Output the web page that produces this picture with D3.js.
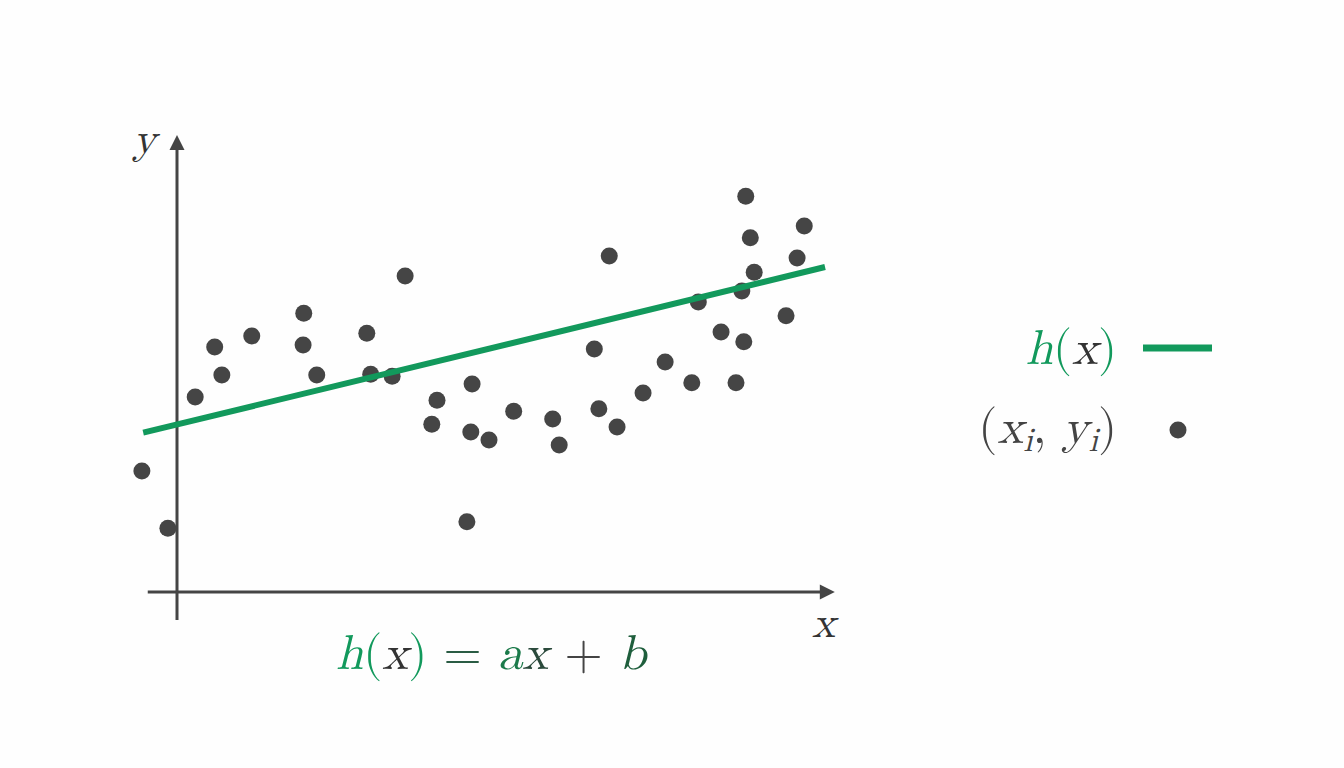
<!DOCTYPE html>
<html>
<head>
<meta charset="utf-8">
<script src="https://cdn.jsdelivr.net/npm/d3@7"></script>
<style>
html,body{margin:0;padding:0;background:#fefefe;}
svg{display:block;}
</style>
</head>
<body>
<svg id="chart" width="1344" height="768"></svg>
<script>
// ---- data ----
const pointX = [-0.54,-0.14,0.28,0.58,0.69,1.15,1.95,1.94,2.15,2.92,2.98,3.31,3.51,3.92,4.00,4.46,4.52,4.54,4.80,5.18,5.78,5.88,6.42,6.49,6.65,6.77,7.17,7.51,7.92,8.02,8.37,8.60,8.69,8.72,8.75,8.82,8.88,9.37,9.54,9.65];
const pointY = [1.86,0.98,3.00,3.77,3.34,3.94,4.29,3.80,3.34,3.98,3.35,3.32,4.86,2.58,2.95,1.08,2.46,3.20,2.34,2.78,2.66,2.26,3.74,2.82,5.17,2.54,3.06,3.54,3.22,4.46,4.00,3.22,4.63,3.85,6.09,5.45,4.92,4.25,5.14,5.63];
const fitA = 0.243;          // slope
const fitB = 2.577;          // intercept
const fitXRange = [-0.52, 9.97];
const xAxisExtent = [-0.45, 10.12];
const yAxisExtent = [-0.43, 7.03];

// ---- scales ----
const svg = d3.select("#chart");
const x = d3.scaleLinear().domain([0, 10]).range([177, 827]);
const y = d3.scaleLinear().domain([0, 7]).range([592, 137]);

const green = "#12995c";
const dark = "#454545";
const FONT = '"Latin Modern Math", "Liberation Serif", serif';

svg.append("rect").attr("width",1344).attr("height",768).attr("fill","#fefefe");

// ---- axes ----
const arrowLen = 15, arrowHalf = 7.5;
svg.append("line")
  .attr("x1", x(xAxisExtent[0])).attr("x2", x(xAxisExtent[1]) - arrowLen + 2)
  .attr("y1", y(0)).attr("y2", y(0))
  .attr("stroke", dark).attr("stroke-width", 3);
svg.append("path")
  .attr("d", `M${x(xAxisExtent[1])},${y(0)} L${x(xAxisExtent[1])-arrowLen},${y(0)-arrowHalf} L${x(xAxisExtent[1])-arrowLen},${y(0)+arrowHalf} Z`)
  .attr("fill", dark);
svg.append("line")
  .attr("x1", x(0)).attr("x2", x(0))
  .attr("y1", y(yAxisExtent[0])).attr("y2", y(yAxisExtent[1]) + arrowLen - 2)
  .attr("stroke", dark).attr("stroke-width", 3);
svg.append("path")
  .attr("d", `M${x(0)},${y(yAxisExtent[1])} L${x(0)-arrowHalf},${y(yAxisExtent[1])+arrowLen} L${x(0)+arrowHalf},${y(yAxisExtent[1])+arrowLen} Z`)
  .attr("fill", dark);

svg.append("text").attr("x", 133).attr("y", 153).style("font-family", FONT)
  .attr("font-size", 44).attr("font-style","italic").attr("fill", "#333").text("y");
svg.append("text").attr("x", 812).attr("y", 637).style("font-family", FONT)
  .attr("font-size", 44).attr("font-style","italic").attr("fill", "#333").text("x");

// ---- points ----
const pts = pointX.map((v,i)=>({x:v, y:pointY[i]}));
svg.append("g").selectAll("circle").data(pts).join("circle")
  .attr("cx", d=>x(d.x)).attr("cy", d=>y(d.y)).attr("r", 8.5)
  .attr("fill", dark);

// ---- regression line ----
svg.append("path")
  .datum(fitXRange.map(v=>({x:v, y:fitA*v+fitB})))
  .attr("d", d3.line().x(d=>x(d.x)).y(d=>y(d.y)))
  .attr("stroke", green).attr("stroke-width", 6).attr("fill","none");

// ---- formula ----
const f = svg.append("text").attr("x", 336).attr("y", 669).attr("font-size", 49).style("font-family", FONT);
f.append("tspan").attr("font-style","italic").attr("fill", green).text("h");
f.append("tspan").attr("fill", green).text("(");
f.append("tspan").attr("font-style","italic").attr("fill", "#333").text("x");
f.append("tspan").attr("fill", green).text(")");
f.append("tspan").attr("fill", "#2a5c44").text(" = ");
f.append("tspan").attr("font-style","italic").attr("fill", "#1b7a4a").text("a");
f.append("tspan").attr("font-style","italic").attr("fill", "#2b4a3c").text("x");
f.append("tspan").attr("fill", "#444").text(" + ");
f.append("tspan").attr("font-style","italic").attr("fill", "#1e5e3c").text("b");

// ---- legend ----
const l1 = svg.append("text").attr("x", 1117).attr("y", 364).attr("font-size", 49).attr("text-anchor","end").style("font-family", FONT);
l1.append("tspan").attr("font-style","italic").attr("fill", green).text("h");
l1.append("tspan").attr("fill", green).text("(");
l1.append("tspan").attr("font-style","italic").attr("fill", "#333").text("x");
l1.append("tspan").attr("fill", green).text(")");
svg.append("line").attr("x1",1143).attr("x2",1212).attr("y1",348).attr("y2",348)
  .attr("stroke", green).attr("stroke-width", 7);

const l2 = svg.append("text").attr("x", 1117).attr("y", 443).attr("font-size", 49).attr("text-anchor","end").attr("fill","#444").style("font-family", FONT);
l2.append("tspan").text("(");
l2.append("tspan").attr("font-style","italic").text("x");
l2.append("tspan").attr("font-style","italic").attr("font-size", 34).attr("dy", 8).text("i");
l2.append("tspan").attr("dy", -8).text(", ");
l2.append("tspan").attr("font-style","italic").text("y");
l2.append("tspan").attr("font-style","italic").attr("font-size", 34).attr("dy", 8).text("i");
l2.append("tspan").attr("dy", -8).text(")");
svg.append("circle").attr("cx",1178).attr("cy",430).attr("r",8.5).attr("fill", dark);
</script>
</body>
</html>
